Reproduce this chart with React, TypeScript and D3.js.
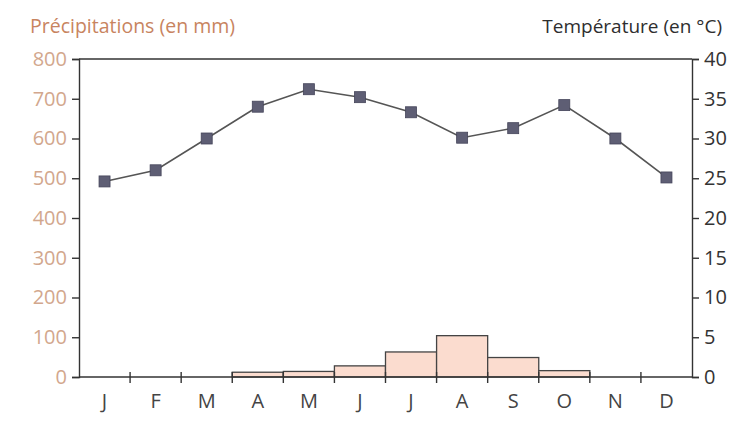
import React, { useEffect, useRef } from "react";
import * as d3 from "d3";

const months = ["J", "F", "M", "A", "M2", "J2", "J3", "A2", "S", "O", "N", "D"];
const monthLabels = ["J", "F", "M", "A", "M", "J", "J", "A", "S", "O", "N", "D"];
const precipitation = [0, 0, 0, 12, 14, 28, 63, 104, 49, 16, 0, 0];
const temperature = [24.6, 26, 30, 34, 36.2, 35.2, 33.3, 30.1, 31.3, 34.2, 30, 25.1];
const precipTicks = [0, 100, 200, 300, 400, 500, 600, 700, 800];
const tempTicks = [0, 5, 10, 15, 20, 25, 30, 35, 40];

const FONT = "'Open Sans', 'Noto Sans', sans-serif";

const App: React.FC = () => {
  const svgRef = useRef<SVGSVGElement>(null);
  const width = 733;
  const height = 421;
  const margin = { top: 59, right: 41, bottom: 44, left: 79 };

  useEffect(() => {
    document.body.style.margin = "0";
    if (!svgRef.current) return;
    const svg = d3.select(svgRef.current);
    svg.selectAll("*").remove();

    const left = margin.left;
    const right = width - margin.right;
    const top = margin.top;
    const bottom = height - margin.bottom;

    const x = d3.scaleBand<string>().domain(months).range([left, right]).padding(0);
    const yP = d3.scaleLinear().domain([0, 800]).range([bottom, top]);
    const yT = d3.scaleLinear().domain([0, 40]).range([bottom, top]);

    // Titles
    svg
      .append("text")
      .attr("x", 30)
      .attr("y", 33)
      .attr("fill", "#c8845f")
      .attr("font-family", FONT)
      .attr("font-size", "19.5px")
      .text("Précipitations (en mm)");

    svg
      .append("text")
      .attr("x", 722)
      .attr("y", 33)
      .attr("text-anchor", "end")
      .attr("fill", "#2e2e2e")
      .attr("font-family", FONT)
      .attr("font-size", "19px")
      .text("Température (en °C)");

    // Bars
    svg
      .append("g")
      .selectAll("rect")
      .data(precipitation.map((v, i) => ({ m: months[i], v })).filter((d) => d.v > 0))
      .enter()
      .append("rect")
      .attr("x", (d) => x(d.m) || 0)
      .attr("y", (d) => yP(d.v))
      .attr("width", x.bandwidth())
      .attr("height", (d) => yP(0) - yP(d.v))
      .attr("fill", "#fbdccf")
      .attr("stroke", "#444")
      .attr("stroke-width", 1.3);

    // Frame top
    svg
      .append("line")
      .attr("x1", left)
      .attr("x2", right)
      .attr("y1", top)
      .attr("y2", top)
      .attr("stroke", "#333")
      .attr("stroke-width", 1.4);

    // Left axis
    const yAxisL = svg
      .append("g")
      .attr("transform", `translate(${left},0)`)
      .call(d3.axisLeft(yP).tickValues(precipTicks).tickSize(7).tickPadding(5));
    yAxisL.selectAll("path").attr("stroke", "#333").attr("stroke-width", 1.4);
    yAxisL.selectAll("line").attr("stroke", "#333").attr("stroke-width", 1.4);
    yAxisL
      .selectAll("text")
      .attr("fill", "#d2a78d")
      .attr("font-family", FONT)
      .attr("font-size", "20px");

    // Right axis
    const yAxisR = svg
      .append("g")
      .attr("transform", `translate(${right},0)`)
      .call(d3.axisRight(yT).tickValues(tempTicks).tickSize(7).tickPadding(5));
    yAxisR.selectAll("path").attr("stroke", "#333").attr("stroke-width", 1.4);
    yAxisR.selectAll("line").attr("stroke", "#333").attr("stroke-width", 1.4);
    yAxisR
      .selectAll("text")
      .attr("fill", "#333")
      .attr("font-family", FONT)
      .attr("font-size", "20px");

    // Bottom axis
    svg
      .append("line")
      .attr("x1", left)
      .attr("x2", right)
      .attr("y1", bottom)
      .attr("y2", bottom)
      .attr("stroke", "#333")
      .attr("stroke-width", 1.4);

    const bounds = months.map((m) => (x(m) || 0) + x.bandwidth()).slice(0, -1);
    svg
      .append("g")
      .selectAll("line")
      .data(bounds)
      .enter()
      .append("line")
      .attr("x1", (d) => d)
      .attr("x2", (d) => d)
      .attr("y1", bottom - 5)
      .attr("y2", bottom + 6)
      .attr("stroke", "#333")
      .attr("stroke-width", 1.4);

    svg
      .append("g")
      .selectAll("text")
      .data(months)
      .enter()
      .append("text")
      .attr("x", (d) => (x(d) || 0) + x.bandwidth() / 2)
      .attr("y", 408)
      .attr("text-anchor", "middle")
      .attr("fill", "#444")
      .attr("font-family", FONT)
      .attr("font-size", "20px")
      .text((d, i) => monthLabels[i]);

    // Temperature line
    const pts = temperature.map((t, i) => ({ m: months[i], t }));
    const line = d3
      .line<{ m: string; t: number }>()
      .x((d) => (x(d.m) || 0) + x.bandwidth() / 2)
      .y((d) => yT(d.t));

    svg
      .append("path")
      .datum(pts)
      .attr("d", line)
      .attr("fill", "none")
      .attr("stroke", "#555")
      .attr("stroke-width", 1.6);

    const s = 11;
    svg
      .append("g")
      .selectAll("rect")
      .data(pts)
      .enter()
      .append("rect")
      .attr("x", (d) => (x(d.m) || 0) + x.bandwidth() / 2 - s / 2)
      .attr("y", (d) => yT(d.t) - s / 2)
      .attr("width", s)
      .attr("height", s)
      .attr("fill", "#5e5e74")
      .attr("stroke", "#45455a")
      .attr("stroke-width", 0.8);
  }, []);

  return (
    <svg
      ref={svgRef}
      width={width}
      height={height}
      style={{ display: "block", background: "#fff" }}
    />
  );
};

export default App;
